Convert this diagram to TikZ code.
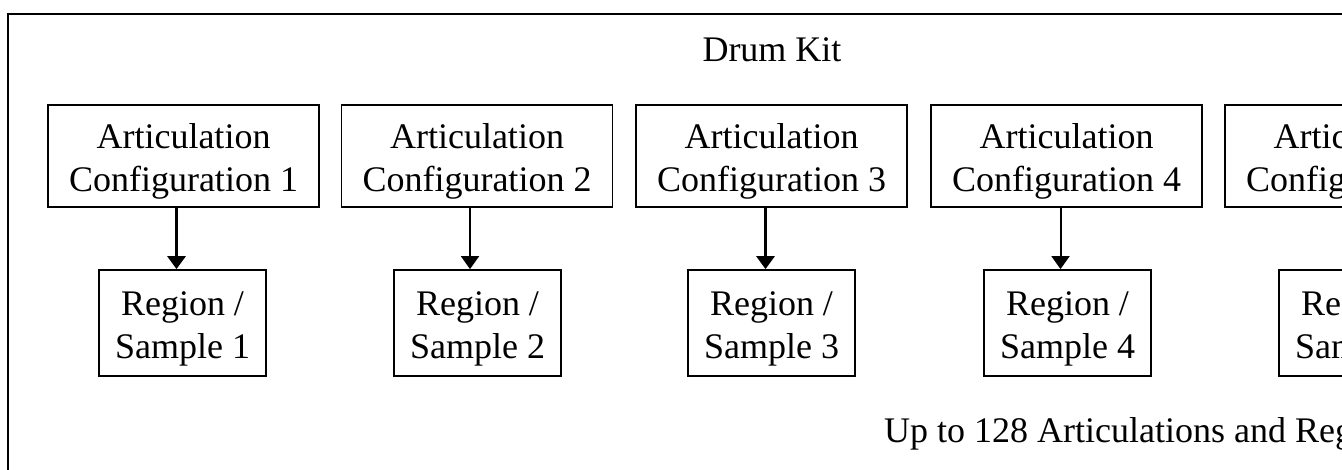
\documentclass[tikz,border=0pt]{standalone}
\usepackage{fontspec}
\setmainfont{Liberation Serif}
\usetikzlibrary{arrows.meta}
\newcommand{\lift}{\rule{0pt}{36pt}}
\begin{document}
\begin{tikzpicture}[x=1pt,y=-1pt,
  txt/.style={font=\fontsize{36}{43}\selectfont, align=center, inner sep=0pt},
  artbox/.style={txt, draw, line width=1.8pt, minimum width=271pt, minimum height=102pt},
  regbox/.style={txt, draw, line width=1.8pt, minimum width=167pt, minimum height=106pt},
  tip/.style={-{Triangle[width=18pt,length=13pt]}},
  thickarrow/.style={line width=3.5pt, tip},
  thinarrow/.style={line width=2pt, tip}
]
\useasboundingbox (0,0) rectangle (1342,470);
\fill[white] (0,0) rectangle (1342,470);
\clip (0,0) rectangle (1342,470);
\draw[line width=2pt] (8,480) -- (8,14) -- (1360,14);
\node[txt, anchor=base] (title) at (772,62) {Drum Kit};
\foreach \i/\ax/\rx in {1/183.5/182.5, 2/477/477.5, 3/771.5/771.5, 4/1066.5/1067.5, 5/1360.5/1362.5}{
  \node[artbox] (a\i) at (\ax,156) {\lift Articulation\\Configuration \i};
  \node[regbox] (r\i) at (\rx,323) {\lift Region /\\Sample \i};
}
\draw[thickarrow] ([xshift=-7pt]a1.south) -- ([xshift=-7pt]a1.south |- r1.north);
\draw[thinarrow] ([xshift=-7pt]a2.south) -- ([xshift=-7pt]a2.south |- r2.north);
\draw[thickarrow] ([xshift=-6pt]a3.south) -- ([xshift=-6pt]a3.south |- r3.north);
\draw[thinarrow] ([xshift=-6pt]a4.south) -- ([xshift=-6pt]a4.south |- r4.north);
\node[txt, anchor=base west] (note) at (884,442) {Up to 128 Articulations and Regions};
\end{tikzpicture}
\end{document}
